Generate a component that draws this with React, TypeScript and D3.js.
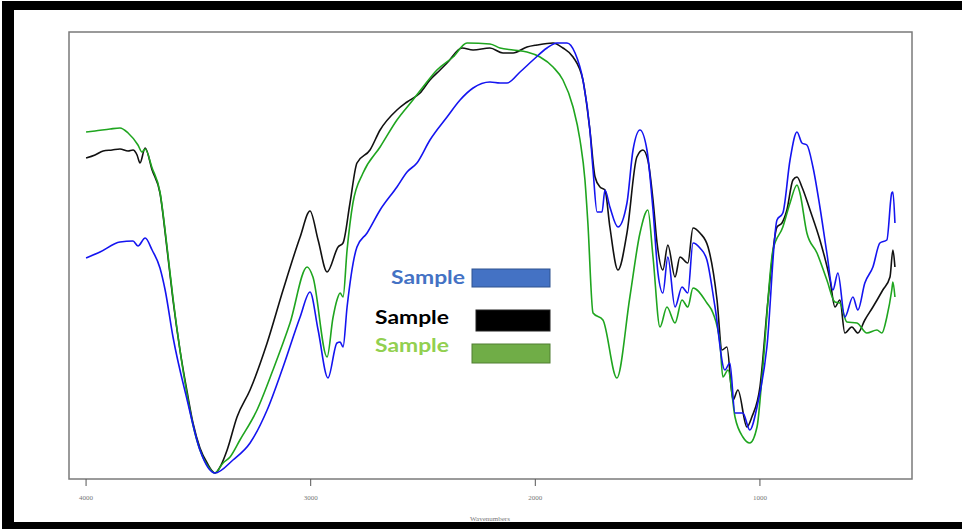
import React from "react";
import * as d3 from "d3";

const W = 962;
const H = 529;

const tickValues = [4000, 3000, 2000, 1000];
const xTitle = "Wavenumbers";
const legendLabels = ["Sample", "Sample", "Sample"];

const blueWn = [4000,3938,3849,3791,3769,3737,3706,3671,3648,3613,3550,3493,3426,3346,3270,3194,3123,3047,3003,2967,2923,2883,2869,2856,2838,2794,2749,2691,2616,2571,2527,2469,2393,2335,2277,2202,2157,2126,2068,2010,1948,1904,1859,1823,1788,1757,1743,1725,1703,1690,1668,1632,1592,1565,1534,1503,1476,1454,1432,1410,1378,1347,1321,1298,1267,1236,1200,1156,1134,1111,1076,1045,1013,969,924,898,866,835,813,791,764,733,702,675,653,622,586,564,533,497,466,435,413,408,399];
const blueT = [55.5,57,59.5,59.75,58.5,60.5,57.5,53,47.5,35.75,20,7.5,1.75,5,9.25,17.5,28.25,40.75,47,37.5,25.5,34.25,34.5,33.25,43.25,58.25,61.75,67.5,73.25,77,79.25,85,90.75,95,98,99.5,99.25,99.25,102,105,108,109.25,109.25,106.75,100,87.5,77.5,67,67,72.5,68.25,63.25,69.25,82.5,87.5,82.5,67.5,51.75,46.75,55.75,43.25,48.25,46.75,59.25,58,55,43.25,27.5,29.25,16.75,16.75,12.5,18.25,33.25,65,66.75,80,87,84.25,83.75,78.25,68.25,56.75,47.5,51.75,40.75,45.75,42.5,49.25,53.25,59.25,60,71.75,72,64.25];

const blackWn = [4000,3960,3924,3884,3849,3813,3791,3773,3760,3737,3706,3671,3639,3613,3582,3550,3524,3493,3461,3426,3399,3372,3328,3270,3194,3123,3047,3003,2967,2927,2878,2856,2825,2794,2736,2691,2616,2571,2513,2469,2424,2393,2326,2277,2202,2144,2099,2037,1993,1921,1877,1832,1788,1757,1734,1712,1690,1668,1632,1592,1548,1521,1499,1476,1458,1432,1410,1378,1356,1321,1298,1267,1231,1191,1169,1147,1120,1098,1058,1036,1000,964,924,902,880,853,835,813,777,733,688,666,644,622,591,564,533,497,453,421,408,399];
const blackT = [80.5,81.25,82.25,82.5,82.75,82.25,82.5,81.25,79.25,83,77.5,71.75,57.5,45,32.5,22,14.25,8,4.25,1.75,3.75,7.5,15.75,22.5,34.25,47.5,60.75,67.25,60,52,58.25,59.25,69.25,79.25,82.5,87.5,92.5,94.5,96.75,100,102.5,104.25,108,107.5,108,106.75,106.75,108.25,108.75,109.25,108,105.75,100,87.5,75.75,73.25,72.5,63.25,52.5,61.75,80.75,82.5,80,70,59.25,52.5,58.75,50.75,55.75,54.25,63,61.75,58.25,45,32.5,33.25,20,22.5,13.25,15.75,23.25,45,63.25,64.25,67.5,75,75.75,73.25,67.5,60,50,43.25,45,36.75,38.25,36.75,40,43.25,47.5,50.75,57.5,53.25];

const greenWn = [4000,3960,3893,3849,3813,3769,3751,3737,3706,3671,3639,3613,3582,3550,3524,3493,3461,3426,3390,3359,3315,3239,3168,3092,3016,2990,2927,2901,2883,2869,2856,2838,2812,2767,2691,2616,2545,2500,2438,2366,2304,2202,2157,2099,2037,1979,1921,1877,1832,1801,1779,1766,1743,1699,1637,1579,1534,1499,1476,1445,1414,1378,1347,1321,1298,1236,1209,1178,1165,1142,1111,1076,1045,1013,987,942,898,866,835,822,791,746,702,666,644,613,568,524,479,457,435,413,408,399];
const greenT = [87,87.25,87.75,88,86.75,83.75,82,82.75,78,72,58,45.5,32.5,21.25,13.75,7.5,3.75,1.75,4.25,5.75,10,17.5,27.5,39.25,53.25,50.75,30.75,40.5,45,46.75,45.75,57.5,69.25,76.75,83.25,90,95,98.25,102.5,105.75,109.25,109,108,107.5,107,105.75,103.25,100,93.25,85,75,64.25,41.75,40,25.5,45.75,61.75,67.5,55.75,38.25,43.25,39.25,45,43.25,48,44.25,41.75,34.25,25.75,27.5,15.75,10.75,9.25,13.25,28.25,57.5,63.25,69.25,73.75,71.75,61.75,56.75,50,44.5,44.25,39.5,39.25,36.75,37.5,36.75,40.75,47.5,49.5,45.75];

function zip(a: number[], b: number[]): [number, number][] {
  const n = Math.min(a.length, b.length);
  const out: [number, number][] = [];
  for (let i = 0; i < n; i++) out.push([a[i], b[i]]);
  return out;
}

export default function App() {
  const box = { left: 69, right: 912, top: 32, bottom: 479 };
  const x = d3.scaleLinear().domain([4076, 323]).range([69, 912]);
  const y = d3.scaleLinear().domain([0, 112]).range([480, 32]);
  const line = d3
    .line<[number, number]>()
    .x((d) => x(d[0]))
    .y((d) => y(d[1]))
    .curve(d3.curveMonotoneX);

  const series = [
    { data: zip(blackWn, blackT), color: "#111111" },
    { data: zip(greenWn, greenT), color: "#1fa51f" },
    { data: zip(blueWn, blueT), color: "#1414f0" },
  ];

  const legend = [
    { label: legendLabels[0], text: "#4472C4", fill: "#4472C4", stroke: "#2F528F", tx: 391, ty: 284, rx: 472, ry: 269, rw: 78, rh: 18 },
    { label: legendLabels[1], text: "#000000", fill: "#000000", stroke: "#222", tx: 375, ty: 324, rx: 476, ry: 310, rw: 74, rh: 21 },
    { label: legendLabels[2], text: "#92D050", fill: "#70AD47", stroke: "#507E32", tx: 375, ty: 352, rx: 472, ry: 344, rw: 78, rh: 19 },
  ];

  return (
    <div style={{ position: "fixed", left: 0, top: 0 }}>
      <svg width={W} height={H} style={{ display: "block", background: "#fff" }}>
        <rect x={0} y={0} width={W} height={H} fill="#ffffff" />
        {/* black outer frame */}
        <rect x={2} y={1} width={W - 2} height={9} fill="#000" />
        <rect x={2} y={1} width={12} height={H - 1} fill="#000" />
        <rect x={2} y={522} width={W - 2} height={7} fill="#000" />
        {/* lines */}
        <g fill="none" strokeWidth={1.6} strokeLinejoin="round">
          {series.map((s, i) => (
            <path key={i} d={line(s.data) || ""} stroke={s.color} />
          ))}
        </g>
        {/* plot box */}
        <rect
          x={box.left}
          y={box.top}
          width={box.right - box.left}
          height={box.bottom - box.top}
          fill="none"
          stroke="#7a7a7a"
          strokeWidth={1.5}
        />
        {/* ticks */}
        <g fontFamily="'Liberation Serif', serif" fontSize={7} fill="#777">
          {tickValues.map((t) => (
            <g key={t}>
              <line x1={x(t)} x2={x(t)} y1={box.bottom} y2={box.bottom + 7} stroke="#555" strokeWidth={1} />
              <text x={x(t)} y={500} textAnchor="middle">
                {t}
              </text>
            </g>
          ))}
          <text x={490} y={521} textAnchor="middle">
            {xTitle}
          </text>
        </g>
        {/* legend */}
        <g fontFamily="Lato, 'Open Sans', sans-serif" fontWeight={700} fontSize={19}>
          {legend.map((l, i) => (
            <g key={i}>
              <text x={l.tx} y={l.ty} fill={l.text} textLength={74} lengthAdjust="spacingAndGlyphs">
                {l.label}
              </text>
              <rect x={l.rx} y={l.ry} width={l.rw} height={l.rh} fill={l.fill} stroke={l.stroke} strokeWidth={1} />
            </g>
          ))}
        </g>
      </svg>
    </div>
  );
}
